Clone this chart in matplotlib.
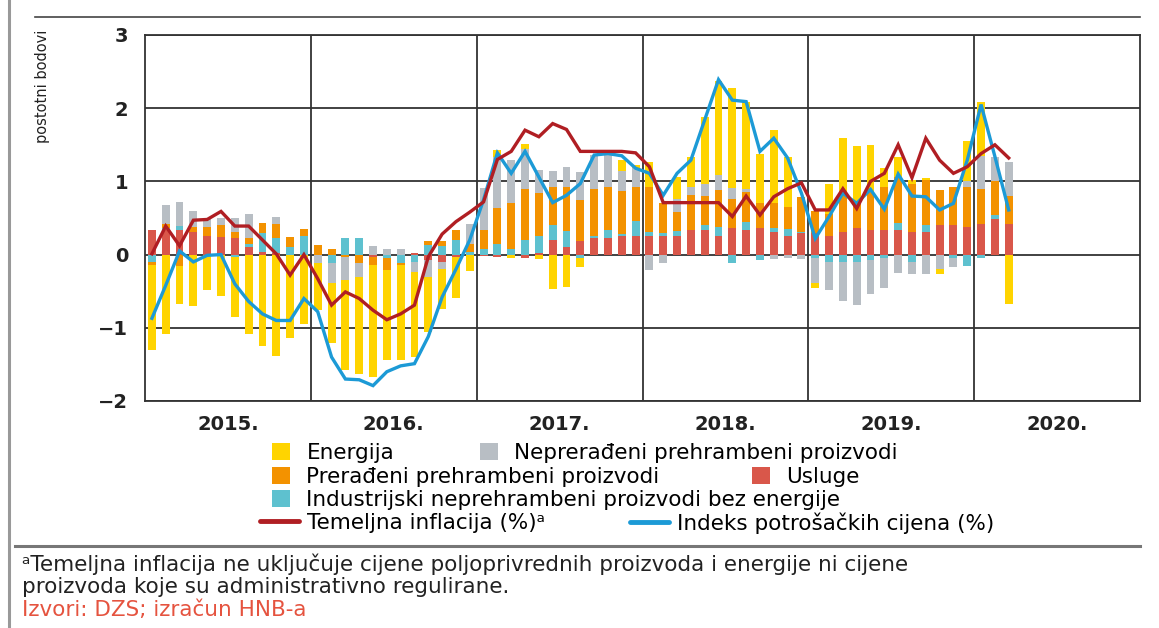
import numpy as np
import matplotlib.pyplot as plt
from matplotlib.lines import Line2D

# monthly contributions, Jan 2015 - Mar 2020 (percentage points)
years = ['2015.', '2016.', '2017.', '2018.', '2019.', '2020.']

services = [0.33, 0.33, 0.33, 0.31, 0.26, 0.24, 0.23, 0.10, 0.04, 0.02, 0.00, 0.00,
            0.00, 0.00, 0.00, 0.00, -0.03, 0.00, 0.00, 0.02, -0.08, -0.10, -0.03, 0.00,
            -0.02, -0.03, 0.00, -0.05, 0.02, 0.20, 0.11, 0.18, 0.22, 0.23, 0.26, 0.25,
            0.25, 0.25, 0.25, 0.33, 0.33, 0.25, 0.37, 0.34, 0.37, 0.31, 0.25, 0.29,
            0.29, 0.25, 0.31, 0.36, 0.33, 0.33, 0.33, 0.31, 0.31, 0.40, 0.40, 0.38,
            0.42, 0.48, 0.42]
industrial = [-0.10, 0.04, 0.06, 0.00, 0.00, 0.00, -0.03, 0.05, 0.26, 0.20, 0.10, 0.25,
              0.00, -0.12, 0.23, 0.22, 0.00, -0.05, -0.12, -0.10, 0.13, 0.12, 0.20, 0.03,
              0.07, 0.15, 0.07, 0.20, 0.24, 0.20, 0.21, -0.04, 0.03, 0.11, 0.02, 0.21,
              0.06, 0.05, 0.07, 0.00, 0.07, 0.13, -0.11, 0.11, -0.07, 0.05, 0.10, 0.02,
              -0.05, -0.10, -0.10, -0.10, -0.07, -0.05, 0.10, -0.10, 0.09, 0.00, -0.04, -0.15,
              -0.05, 0.06, 0.00]
processed = [-0.04, 0.05, -0.15, 0.07, 0.12, 0.16, 0.08, 0.08, 0.13, 0.20, 0.14, 0.10,
             0.13, 0.07, -0.03, -0.11, -0.11, -0.16, -0.02, 0.00, 0.06, 0.07, 0.14, 0.12,
             0.26, 0.48, 0.64, 0.69, 0.58, 0.53, 0.60, 0.57, 0.64, 0.58, 0.59, 0.46,
             0.62, 0.41, 0.26, 0.48, 0.40, 0.50, 0.39, 0.40, 0.33, 0.35, 0.30, 0.48,
             0.30, 0.31, 0.53, 0.37, 0.53, 0.60, 0.63, 0.66, 0.62, 0.48, 0.53, 0.55,
             0.47, 0.46, 0.38]
unprocessed = [0.00, 0.26, 0.33, 0.22, 0.10, 0.10, 0.19, 0.32, 0.00, 0.10, 0.00, 0.00,
               -0.12, -0.27, -0.32, -0.20, 0.12, 0.07, 0.07, -0.14, -0.22, -0.09, 0.00, 0.27,
               0.58, 0.70, 0.58, 0.55, 0.31, 0.21, 0.28, 0.38, 0.47, 0.46, 0.27, 0.26,
               -0.21, -0.11, 0.18, 0.11, 0.17, 0.21, 0.15, 0.05, 0.00, -0.06, -0.04, -0.06,
               -0.34, -0.39, -0.53, -0.59, -0.47, -0.41, -0.25, -0.16, -0.26, -0.20, -0.13, 0.07,
               0.46, 0.34, 0.47]
energy = [-1.16, -1.08, -0.52, -0.70, -0.49, -0.57, -0.82, -1.08, -1.25, -1.38, -1.14, -0.95,
          -0.64, -0.82, -1.23, -1.32, -1.53, -1.23, -1.30, -1.16, -0.76, -0.55, -0.56, -0.22,
          0.00, 0.10, -0.04, 0.07, -0.06, -0.47, -0.44, -0.13, 0.00, 0.00, 0.15, 0.05,
          0.34, 0.00, 0.30, 0.41, 0.91, 1.28, 1.36, 1.19, 0.68, 0.99, 0.68, 0.00,
          -0.07, 0.41, 0.75, 0.76, 0.64, 0.25, 0.27, 0.05, 0.03, -0.06, 0.00, 0.55,
          0.73, 0.00, -0.67]

core = [0.01, 0.39, 0.12, 0.47, 0.48, 0.59, 0.39, 0.39, 0.20, 0.01, -0.28, 0.00,
        -0.33, -0.69, -0.51, -0.60, -0.76, -0.89, -0.81, -0.69, -0.03, 0.28, 0.45, 0.58,
        0.72, 1.30, 1.41, 1.70, 1.61, 1.79, 1.71, 1.41, 1.41, 1.41, 1.41, 1.39,
        1.20, 0.71, 0.71, 0.71, 0.71, 0.71, 0.52, 0.80, 0.54, 0.79, 0.90, 0.98,
        0.61, 0.61, 0.90, 0.63, 1.00, 1.11, 1.50, 1.05, 1.59, 1.29, 1.11, 1.20,
        1.38, 1.50, 1.32]
cpi = [-0.87, -0.42, 0.05, -0.10, -0.01, 0.00, -0.40, -0.64, -0.81, -0.90, -0.90, -0.60,
       -0.78, -1.40, -1.70, -1.71, -1.79, -1.60, -1.52, -1.49, -1.12, -0.58, -0.20, 0.20,
       0.75, 1.39, 1.11, 1.41, 1.06, 0.71, 0.81, 0.97, 1.36, 1.38, 1.35, 1.18,
       1.11, 0.81, 1.11, 1.29, 1.84, 2.39, 2.11, 2.09, 1.41, 1.59, 1.32, 0.84,
       0.22, 0.52, 0.84, 0.70, 0.89, 0.62, 1.10, 0.80, 0.79, 0.61, 0.70, 1.29,
       2.05, 1.34, 0.61]

W, H = 1159, 628


def fx(px):
    return px / W


def fy(py):
    return 1 - py / H


fig = plt.figure(figsize=(W / 100, H / 100), dpi=100)
ax = fig.add_axes([fx(145), fy(401), fx(1140) - fx(145), fy(35) - fy(401)])

x = np.arange(len(services)) + 0.5
pos = np.zeros(len(x))
neg = np.zeros(len(x))

# stacking order from zero outwards
parts = [(services, '#D9574A', 'Usluge'),
         (industrial, '#5EC1CF', 'Industrijski neprehrambeni proizvodi bez energije'),
         (processed, '#F39200', 'Prerađeni prehrambeni proizvodi'),
         (unprocessed, '#B8BEC4', 'Neprerađeni prehrambeni proizvodi'),
         (energy, '#FFD400', 'Energija')]
handles = {}
for vals, col, lab in parts:
    v = np.array(vals)
    bottom = np.where(v >= 0, pos, neg)
    handles[lab] = ax.bar(x, v, 0.57, bottom=bottom, color=col, linewidth=0, zorder=2)
    pos += np.clip(v, 0, None)
    neg += np.clip(v, None, 0)

l_cpi, = ax.plot(x, cpi, color='#1C9AD6', lw=2.4, zorder=3, solid_joinstyle='miter')
l_core, = ax.plot(x, core, color='#B01E23', lw=2.4, zorder=4, solid_joinstyle='miter')

ax.set_xlim(0, 72)
ax.set_ylim(-2, 3)
ax.set_yticks(range(-2, 4))
ax.set_yticklabels(['\u22122', '\u22121', '0', '1', '2', '3'], fontsize=14, fontweight='bold', color='#222')
ax.set_xticks(np.arange(6) * 12 + 6)
ax.set_xticklabels(years, fontsize=14, fontweight='semibold', color='#222')
ax.set_xticks(np.arange(12, 72, 12), minor=True)
ax.tick_params(which='both', length=0)
ax.tick_params(axis='y', pad=12)
ax.tick_params(axis='x', pad=10)
ax.grid(True, which='minor', axis='x', color='#333', lw=1.3, zorder=1)
ax.grid(True, which='major', axis='y', color='#333', lw=1.3, zorder=1)
ax.set_axisbelow(True)
for s in ax.spines.values():
    s.set_color('#333')
    s.set_linewidth(1.3)

fig.text(fx(43), fy(30), 'postotni bodovi', rotation=90, va='top', ha='center',
         fontsize=10.5, family=['Liberation Sans Narrow', 'DejaVu Sans Condensed', 'DejaVu Sans'], color='#222')

# legend, one entry at a time so they sit where the original has them
fs = 15.5
entries = [(handles['Energija'], 'Energija', 272, 453),
           (handles['Neprerađeni prehrambeni proizvodi'], 'Neprerađeni prehrambeni proizvodi', 480, 453),
           (handles['Prerađeni prehrambeni proizvodi'], 'Prerađeni prehrambeni proizvodi', 272, 477),
           (handles['Usluge'], 'Usluge', 752, 477),
           (handles['Industrijski neprehrambeni proizvodi bez energije'],
            'Industrijski neprehrambeni proizvodi bez energije', 272, 500)]
for h, lab, px, py in entries:
    fig.legend([h], [lab], loc='center left', bbox_to_anchor=(fx(px), fy(py)), frameon=False,
               fontsize=fs, borderpad=0, borderaxespad=0, handlelength=0.85, handleheight=0.85,
               handletextpad=0.75)
for h, lab, px, py in [(l_core, 'Temeljna inflacija (%)\u1d43', 260, 523),
                       (l_cpi, 'Indeks potrošačkih cijena (%)', 630, 523)]:
    fig.legend([Line2D([], [], color=h.get_color(), lw=3.5, solid_capstyle='round')], [lab],
               loc='center left', bbox_to_anchor=(fx(px), fy(py)), frameon=False,
               fontsize=fs, borderpad=0, borderaxespad=0, handlelength=1.8, handletextpad=0.4)

# rules
fig.add_artist(Line2D([fx(35), fx(1140)], [fy(17), fy(17)], color='#444', lw=1.2))
fig.add_artist(Line2D([fx(15), fx(1140)], [fy(546), fy(546)], color='#777', lw=2.2))
fig.add_artist(Line2D([fx(9), fx(9)], [0, 1], color='#999', lw=2.2))

fn = 15.5
fig.text(fx(22), fy(564), '\u1d43Temeljna inflacija ne uključuje cijene poljoprivrednih proizvoda i energije ni cijene',
         va='center', fontsize=fn, color='#222')
fig.text(fx(22), fy(587), 'proizvoda koje su administrativno regulirane.', va='center', fontsize=fn, color='#222')
fig.text(fx(22), fy(610), 'Izvori: DZS; izračun HNB-a', va='center', fontsize=fn, color='#E5533F')

fig.savefig('out.png', dpi=100)
